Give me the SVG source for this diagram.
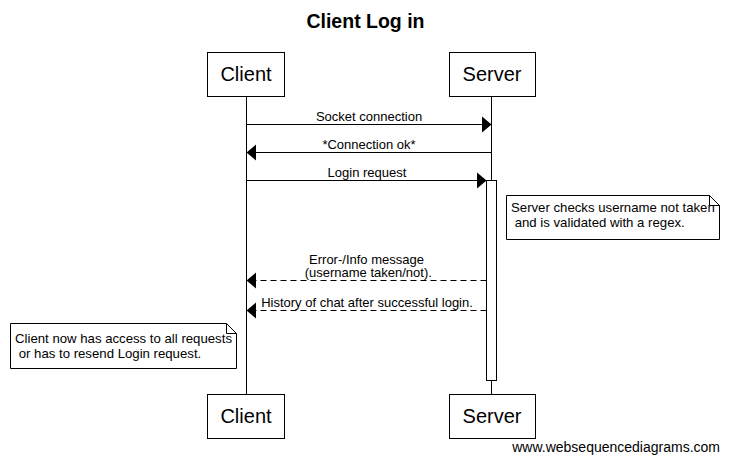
<svg xmlns="http://www.w3.org/2000/svg" width="730" height="463" viewBox="0 0 730 463">
<style>
text{font-family:"Liberation Sans",Arial,sans-serif;fill:#000}
.title{font-size:19.5px;font-weight:bold}
.actor{font-size:20px}
.msg{font-size:13px;white-space:pre}
.note{font-size:13.2px;white-space:pre}
.wm{font-size:14px}
.box{fill:#fff;stroke:#000;stroke-width:1}
.life{stroke:#000;stroke-width:1;fill:none}
.solid{stroke:#000;stroke-width:1;fill:none}
.dash{stroke:#000;stroke-width:1;fill:none;stroke-dasharray:6 4}
.head{fill:#000;stroke:none}
</style>
<rect width="730" height="463" fill="#fff"/>
<text class="title" x="365.5" y="28" text-anchor="middle">Client Log in</text>
<g id="lifelines">
<line class="life" x1="246.5" y1="96" x2="246.5" y2="394"/>
<line class="life" x1="491.5" y1="96" x2="491.5" y2="394"/>
</g>
<g id="client-top"><rect class="box" x="207.5" y="52.5" width="77" height="44"/><text class="actor" x="246" y="81" text-anchor="middle">Client</text></g>
<g id="server-top"><rect class="box" x="449.5" y="52.5" width="86" height="44"/><text class="actor" x="492" y="81" text-anchor="middle">Server</text></g>
<g id="activation"><rect class="box" x="486.5" y="180.5" width="10" height="200"/></g>
<g id="connectors">
<line class="solid" x1="246.5" y1="124.5" x2="484" y2="124.5"/>
<polygon class="head" points="482,116.5 491.5,124.5 482,132.5"/>
<text class="msg" x="369" y="120.5" text-anchor="middle">Socket connection</text>
<line class="solid" x1="491.5" y1="152.5" x2="254" y2="152.5"/>
<polygon class="head" points="256,144.5 246.5,152.5 256,160.5"/>
<text class="msg" x="369" y="148.5" text-anchor="middle">*Connection ok*</text>
<line class="solid" x1="246.5" y1="180.5" x2="479" y2="180.5"/>
<polygon class="head" points="477,172.5 486.5,180.5 477,188.5"/>
<text class="msg" x="367" y="176.5" text-anchor="middle">Login request</text>
<line class="dash" x1="486.5" y1="280.5" x2="254" y2="280.5"/>
<polygon class="head" points="256,272.5 246.5,280.5 256,288.5"/>
<text class="msg" x="366.5" y="263.5" text-anchor="middle">Error-/Info message</text>
<text class="msg" x="366.5" y="277" text-anchor="middle"> (username taken/not).</text>
<line class="dash" x1="486.5" y1="310.5" x2="254" y2="310.5"/>
<polygon class="head" points="256,302.5 246.5,310.5 256,318.5"/>
<text class="msg" x="367" y="306.5" text-anchor="middle">History of chat after successful login.</text>
</g>
<g id="note-server">
<path class="box" d="M506.5,195.5 H709.5 L719.5,205.5 V239.5 H506.5 Z"/>
<path class="solid" d="M709.5,195.5 V205.5 H719.5"/>
<text class="note" x="511" y="212">Server checks username not taken</text>
<text class="note" x="511" y="227"> and is validated with a regex.</text>
</g>
<g id="note-client">
<path class="box" d="M10.5,323.5 H226.5 L236.5,333.5 V368.5 H10.5 Z"/>
<path class="solid" d="M226.5,323.5 V333.5 H236.5"/>
<text class="note" x="15" y="343">Client now has access to all requests</text>
<text class="note" x="15" y="358"> or has to resend Login request.</text>
</g>
<g id="client-bottom"><rect class="box" x="207.5" y="394.5" width="77" height="44"/><text class="actor" x="246" y="423" text-anchor="middle">Client</text></g>
<g id="server-bottom"><rect class="box" x="449.5" y="394.5" width="86" height="44"/><text class="actor" x="492" y="423" text-anchor="middle">Server</text></g>
<text class="wm" x="720" y="452" text-anchor="end">www.websequencediagrams.com</text>
</svg>
